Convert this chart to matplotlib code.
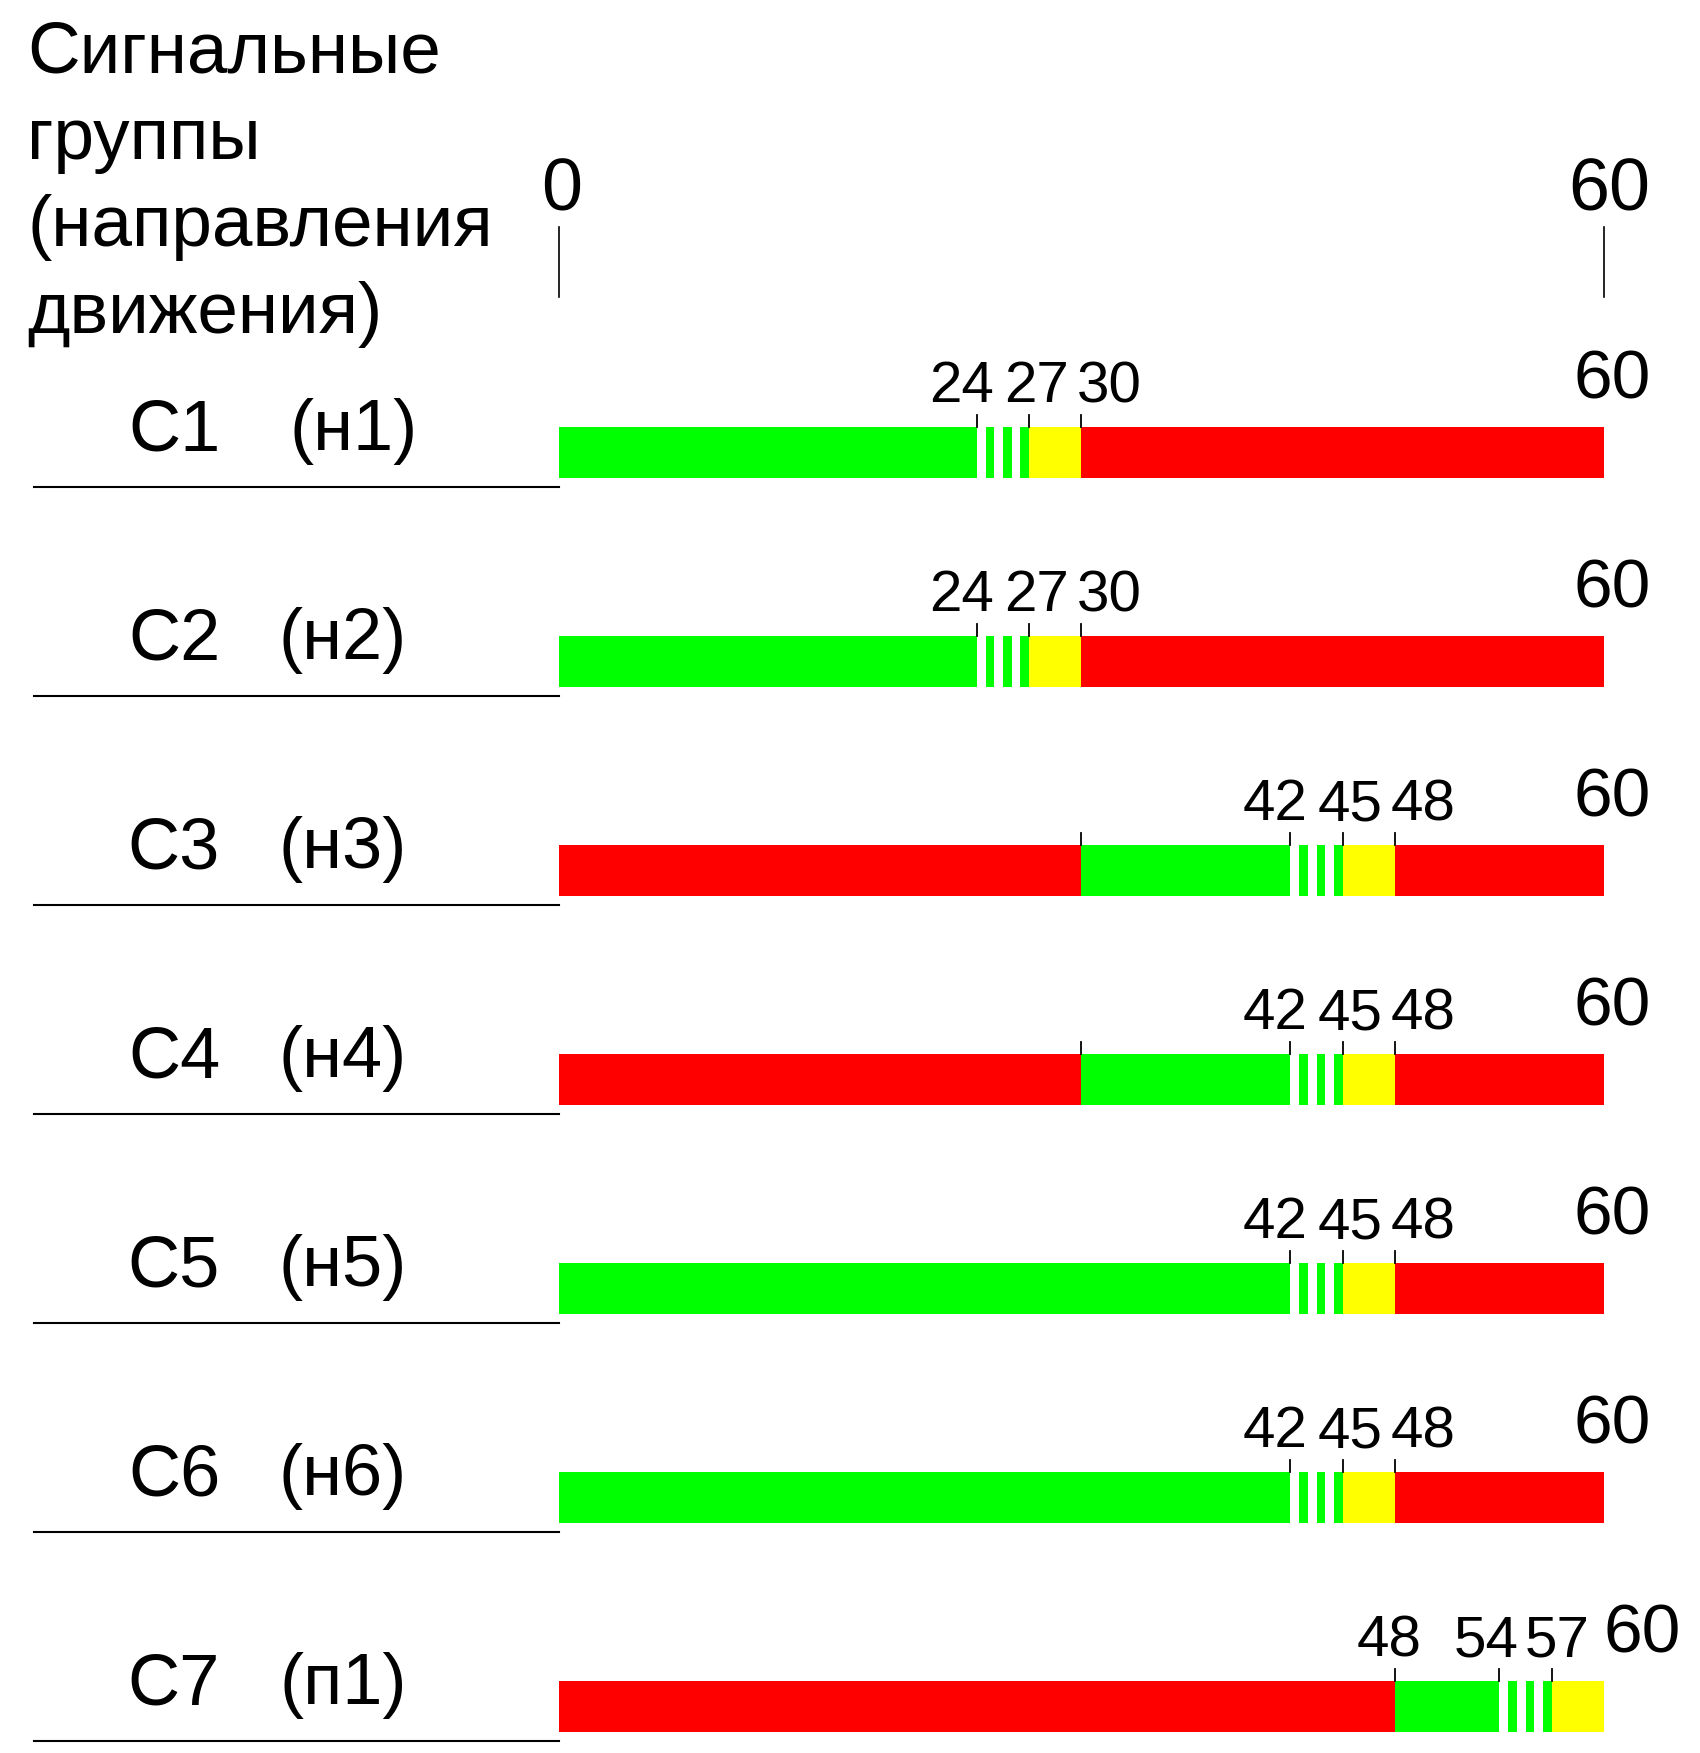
import matplotlib.pyplot as plt

plt.rcParams['font.family'] = ['Liberation Sans', 'DejaVu Sans']

# signal groups and their directions
groups = ["С1", "С2", "С3", "С4", "С5", "С6", "С7"]
directions = ["(н1)", "(н2)", "(н3)", "(н4)", "(н5)", "(н6)", "(п1)"]

cycle = 60

# phases per group: (start, end, state); "flash" = blinking green
phases = [
    [(0, 24, "green"), (24, 27, "flash"), (27, 30, "yellow"), (30, 60, "red")],
    [(0, 24, "green"), (24, 27, "flash"), (27, 30, "yellow"), (30, 60, "red")],
    [(0, 30, "red"), (30, 42, "green"), (42, 45, "flash"), (45, 48, "yellow"), (48, 60, "red")],
    [(0, 30, "red"), (30, 42, "green"), (42, 45, "flash"), (45, 48, "yellow"), (48, 60, "red")],
    [(0, 42, "green"), (42, 45, "flash"), (45, 48, "yellow"), (48, 60, "red")],
    [(0, 42, "green"), (42, 45, "flash"), (45, 48, "yellow"), (48, 60, "red")],
    [(0, 48, "red"), (48, 54, "green"), (54, 57, "flash"), (57, 60, "yellow")],
]

# marked moments above each bar (ticks) and which of them get a number
tick_times = [
    [24, 27, 30],
    [24, 27, 30],
    [30, 42, 45, 48],
    [30, 42, 45, 48],
    [42, 45, 48],
    [42, 45, 48],
    [48, 54, 57],
]
label_times = [
    [24, 27, 30],
    [24, 27, 30],
    [42, 45, 48],
    [42, 45, 48],
    [42, 45, 48],
    [42, 45, 48],
    [48, 54, 57],
]

colors = {"green": "#00ff00", "yellow": "#ffff00", "red": "#ff0000"}

# layout (pixels of the 1700x1753 canvas)
W, H = 1700, 1753
X0_PX, X60_PX = 558.8, 1604.0
PPS = (X60_PX - X0_PX) / cycle
ROW0_PX, ROW_PX = 452.5, 209.0
BAR_H = 51 / ROW_PX


def py(y_px):
    return (y_px - ROW0_PX) / ROW_PX


def px(x_px):
    return (x_px - X0_PX) / PPS


label_shift = [[-0.86, 0.40, 1.60]] * 6 + [[-0.32, -0.75, 0.30]]
sixty_x = [60.45] * 6 + [62.2]

fig = plt.figure(figsize=(W / 100, H / 100), dpi=100)
ax = fig.add_axes([0, 0, 1, 1])
ax.set_xlim(px(0), px(W))
ax.set_ylim(py(H), py(0))
ax.axis("off")

# header
header = ["Сигнальные", "группы", "(направления", "движения)"]
for line, base in zip(header, [72.0, 159.0, 246.0, 333.0]):
    ax.text(px(27), py(base), line, fontsize=52.5, ha="left", va="baseline")

# cycle scale 0 ... 60
for t, xt in [(0, 0.17), (cycle, 60.3)]:
    ax.text(xt, py(210), str(t), fontsize=53, ha="center", va="baseline")
    ax.plot([t, t], [py(227), py(297)], color="black", lw=1.2)

half = BAR_H / 2
tick_len = 12 / ROW_PX
for i, (g, d) in enumerate(zip(groups, directions)):
    y = i
    for start, end, state in phases[i]:
        if state == "flash":
            # blinking green: white/green every half second
            t = start
            while t < end:
                ax.barh(y, 0.5, left=t + 0.5, height=BAR_H,
                        color=colors["green"], linewidth=0)
                t += 1
        else:
            ax.barh(y, end - start, left=start, height=BAR_H,
                    color=colors[state], linewidth=0)

    for t in tick_times[i]:
        ax.plot([t, t], [y - half, y - half - tick_len], color="black", lw=1.3)
    for t, dx in zip(label_times[i], label_shift[i]):
        ax.text(t + dx, y - half - 25 / ROW_PX, str(t), fontsize=42,
                ha="center", va="baseline")
    ax.text(sixty_x[i], y - half - 29 / ROW_PX, str(cycle), fontsize=50,
            ha="center", va="baseline")

    # group name and direction
    ax.text(px(174), y - 2.5 / ROW_PX, g, fontsize=52, ha="center", va="baseline")
    dir_x = px(354) if i == 0 else px(343)
    ax.text(dir_x, y - 2.5 / ROW_PX, d, fontsize=52, ha="center", va="baseline")
    ax.plot([px(33.5), 0], [y + 34.8 / ROW_PX] * 2, color="black", lw=1.5)

fig.savefig("out.png", dpi=100)
